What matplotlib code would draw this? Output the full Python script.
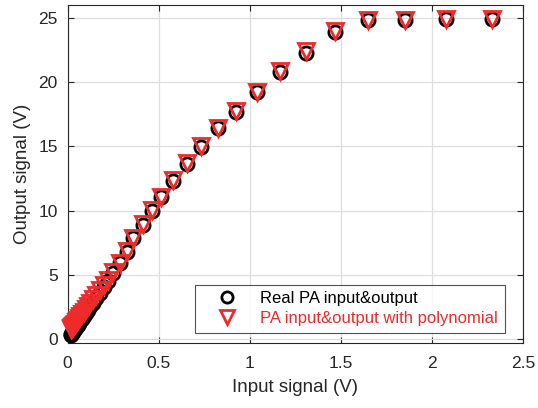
import matplotlib
matplotlib.use("Agg")
import matplotlib.pyplot as plt

plt.rcParams['font.family'] = ['Liberation Sans', 'DejaVu Sans']

# Input amplitudes (V)
x_in = [2.328, 2.076, 1.852, 1.651, 1.468, 1.307, 1.166, 1.038, 0.925, 0.824,
        0.733, 0.654, 0.577, 0.511, 0.462, 0.413, 0.361, 0.325, 0.288, 0.251,
        0.224, 0.200, 0.178, 0.159, 0.141, 0.126, 0.112, 0.100, 0.089, 0.079,
        0.071, 0.063, 0.056, 0.050, 0.045, 0.040, 0.035, 0.032, 0.028, 0.025,
        0.022, 0.020, 0.018]

# Real PA output (V)
y_real = [24.95, 24.95, 24.85, 24.85, 23.90, 22.30, 20.80, 19.20, 17.70, 16.40,
          14.95, 13.65, 12.30, 11.05, 10.00, 8.90, 7.85, 6.80, 5.90, 5.15,
          4.50, 4.04, 3.60, 3.21, 2.85, 2.55, 2.26, 2.02, 1.80, 1.60,
          1.43, 1.27, 1.13, 1.01, 0.91, 0.81, 0.71, 0.65, 0.57, 0.51,
          0.44, 0.40, 0.36]

# PA output with polynomial model (V)
y_poly = [24.90, 24.90, 24.80, 24.80, 23.95, 22.40, 20.85, 19.20, 17.75, 16.40,
          15.00, 13.70, 12.35, 11.10, 10.05, 8.95, 7.90, 6.85, 5.95, 5.25,
          4.60, 4.20, 3.83, 3.47, 3.13, 2.84, 2.58, 2.35, 2.14, 1.95,
          1.80, 1.65, 1.51, 1.40, 1.31, 1.21, 1.12, 1.06, 0.98, 0.93,
          0.87, 0.83, 0.79]

labels = ["Real PA input&output", "PA input&output with polynomial"]
red = '#ee2a2a'

fig = plt.figure(figsize=(5.38, 4.08), dpi=100)
ax = fig.add_axes([0.1255, 0.1593, 0.8465, 0.8284])

ax.plot(x_in, y_real, linestyle='none', marker='o', markersize=9.5,
        markerfacecolor='none', markeredgecolor='black', markeredgewidth=2,
        label=labels[0], clip_on=False, zorder=3)
ax.plot(x_in, y_poly, linestyle='none', marker='v', markersize=11.5,
        markerfacecolor='none', markeredgecolor=red, markeredgewidth=2,
        label=labels[1], clip_on=False, zorder=4)

ax.set_xlim(0, 2.5)
ax.set_ylim(-0.3, 26)
ax.set_xticks([0, 0.5, 1, 1.5, 2, 2.5])
ax.set_xticklabels(['0', '0.5', '1', '1.5', '2', '2.5'])
ax.set_yticks([0, 5, 10, 15, 20, 25])

ax.grid(True, color='#dedede', linewidth=0.9)
ax.set_axisbelow(True)
ax.tick_params(direction='in', top=True, right=True, length=4,
               labelsize=12.5, colors='#262626', width=0.8)
ax.tick_params(axis='x', pad=9)
ax.tick_params(axis='y', pad=7)
for s in ax.spines.values():
    s.set_color('#262626')
    s.set_linewidth(0.8)

ax.set_xlabel('Input signal (V)', fontsize=13.5, color='#262626', labelpad=6)
ax.set_ylabel('Output signal (V)', fontsize=13.5, color='#262626', labelpad=5)

leg = ax.legend(loc='lower right', bbox_to_anchor=(0.96, 0.03), fontsize=12,
                frameon=True, fancybox=False, edgecolor='#262626',
                handletextpad=0.5, borderpad=0.4, labelspacing=0.3,
                handlelength=3.0, borderaxespad=0, markerscale=0.85)
leg.get_frame().set_linewidth(0.8)
texts = leg.get_texts()
texts[0].set_color('black')
texts[1].set_color(red)

fig.savefig('out.png', dpi=100)
